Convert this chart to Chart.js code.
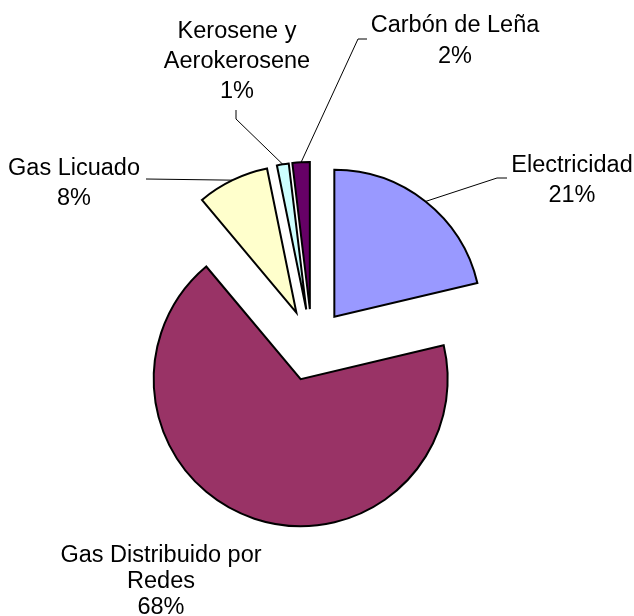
<!DOCTYPE html>
<html>
<head>
<meta charset="utf-8">
<script src="https://cdn.jsdelivr.net/npm/chart.js@4/dist/chart.umd.min.js"></script>
<style>
  html, body { margin: 0; padding: 0; background: #fff; }
  #wrap { position: relative; width: 634px; height: 616px; }
</style>
</head>
<body>
<div id="wrap"><canvas id="c"></canvas></div>
<script>
// ---- data ----
const categories = ['Electricidad', 'Gas Distribuido por Redes', 'Gas Licuado', 'Kerosene y Aerokerosene', 'Carbón de Leña'];
const labelLines = [['Electricidad'], ['Gas Distribuido por', 'Redes'], ['Gas Licuado'], ['Kerosene y', 'Aerokerosene'], ['Carbón de Leña']];
const shares = [21.3, 67.6, 7.9, 1.3, 1.9];
const colors = ['#9999FF', '#993366', '#FFFFCC', '#CCFFFF', '#660066'];

// ---- layout (label placement, not data) ----
const EXPLODE = 36;
const FONT = '23.5px "Liberation Sans", Arial, sans-serif';
const labelLayout = [
  { x: 572, y: 172, gap: 30, leader: [[497, 178], [507, 178]] },
  { x: 161, y: 562, gap: 26, leader: null },
  { x: 74,  y: 175, gap: 30, leader: [[146, 179]] },
  { x: 237, y: 37.5, gap: 30, leader: [[236, 119], [236, 110]] },
  { x: 455, y: 32, gap: 30.5, leader: [[358, 39], [367, 39]] }
];

const explodePlugin = {
  id: 'explode',
  afterDatasetUpdate(chart, args) {
    const meta = chart.getDatasetMeta(args.index);
    meta.data.forEach(arc => {
      const mid = (arc.startAngle + arc.endAngle) / 2;
      arc.x += Math.cos(mid) * EXPLODE;
      arc.y += Math.sin(mid) * EXPLODE;
    });
  }
};

const labelPlugin = {
  id: 'pieLabels',
  afterDraw(chart) {
    const ctx = chart.ctx;
    const meta = chart.getDatasetMeta(0);
    const total = shares.reduce((a, b) => a + b, 0);
    ctx.save();
    meta.data.forEach((arc, i) => {
      const L = labelLayout[i];
      const mid = (arc.startAngle + arc.endAngle) / 2;
      if (L.leader) {
        const sx = arc.x + Math.cos(mid) * arc.outerRadius;
        const sy = arc.y + Math.sin(mid) * arc.outerRadius;
        ctx.beginPath();
        ctx.strokeStyle = '#000';
        ctx.lineWidth = 1;
        ctx.moveTo(sx, sy);
        L.leader.forEach(p => ctx.lineTo(p[0], p[1]));
        ctx.stroke();
      }
      const lines = labelLines[i].concat([Math.round(shares[i] / total * 100) + '%']);
      ctx.fillStyle = '#000';
      ctx.font = FONT;
      ctx.textAlign = 'center';
      ctx.textBaseline = 'alphabetic';
      lines.forEach((t, k) => ctx.fillText(t, L.x, L.y + k * L.gap));
    });
    ctx.restore();
  }
};

new Chart(document.getElementById('c'), {
  type: 'pie',
  data: {
    labels: categories,
    datasets: [{
      data: shares,
      backgroundColor: colors,
      borderColor: '#000000',
      borderWidth: 2,
      borderJoinStyle: 'miter',
      radius: 147
    }]
  },
  options: {
    responsive: true,
    maintainAspectRatio: false,
    animation: false,
    events: [],
    radius: 147,
    layout: { padding: { top: 74, right: 10, left: 0, bottom: 0 } },
    plugins: { legend: { display: false }, tooltip: { enabled: false } }
  },
  plugins: [explodePlugin, labelPlugin]
});
</script>
</body>
</html>
